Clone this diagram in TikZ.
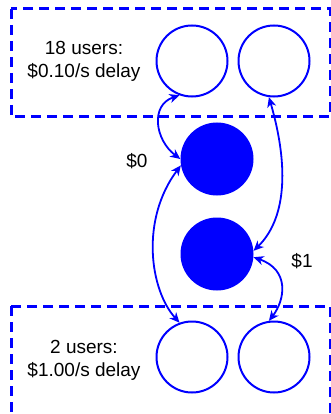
\documentclass[tikz,border=0pt]{standalone}
\usepackage{fontspec}
\setmainfont{Liberation Sans}
\usetikzlibrary{arrows.meta}
\definecolor{pblue}{RGB}{0,0,255}
\begin{document}
\begin{tikzpicture}[x=1pt,y=-1pt,
  grp/.style={draw=pblue, line width=3pt, dash pattern=on 10pt off 6pt},
  ucirc/.style={circle, draw=pblue, line width=2pt, minimum size=71pt, inner sep=0pt},
  fcirc/.style={circle, fill=pblue, minimum size=73pt, inner sep=0pt},
  lbl/.style={font=\fontsize{19}{23}\selectfont, align=center},
  conn/.style={draw=pblue, line width=1.8pt, {Stealth[length=10pt,width=9pt,inset=3pt]}-{Stealth[length=10pt,width=9pt,inset=3pt]}}]
\useasboundingbox (0,0) rectangle (331,414);
\draw[grp] (11,9) rectangle (330,117);
\draw[grp] (11,306) rectangle (330,416);
\node[lbl] (t1) at (84,61) {18 users:\\\$0.10/s delay};
\node[lbl] (t2) at (84,360) {2 users:\\\$1.00/s delay};
\node[ucirc] (a) at (192,61) {};
\node[ucirc] (b) at (274,61) {};
\node[fcirc] (p) at (217,159) {};
\node[fcirc] (q) at (217,254) {};
\node[ucirc] (c) at (192,357) {};
\node[ucirc] (d) at (274,357) {};
\node[lbl] (l0) at (137,161) {\$0};
\node[lbl] (l1) at (302,261) {\$1};
\draw[conn] (a.250) .. controls (150,105) and (155,140) .. (p.west);
\draw[conn] (b.262) .. controls (290,170) and (285,220) .. (q.5);
\draw[conn] (p.190) .. controls (140,220) and (150,290) .. (c.110);
\draw[conn] (q.-5) .. controls (290,270) and (285,300) .. (d.98);
\end{tikzpicture}
\end{document}
